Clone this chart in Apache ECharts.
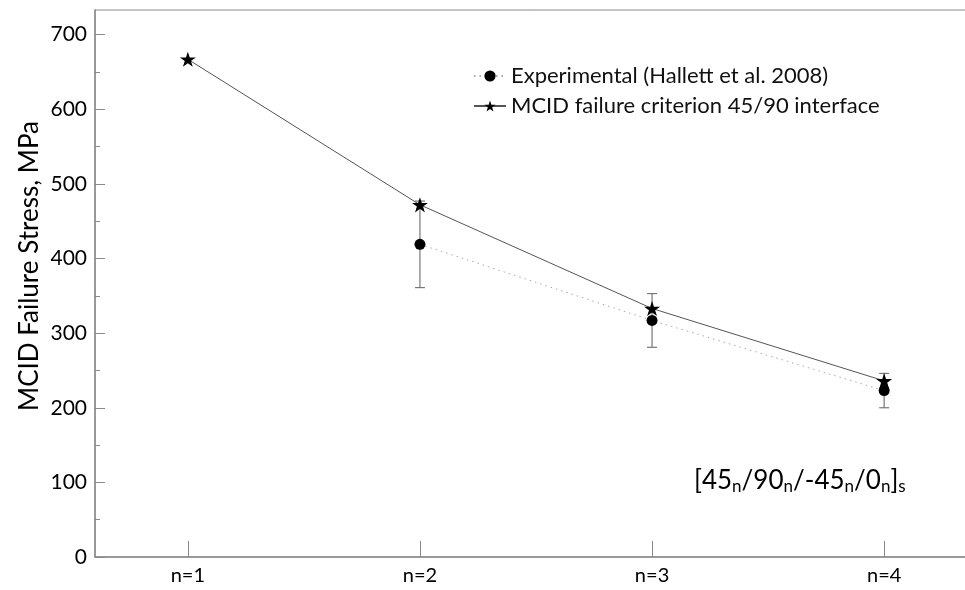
<!DOCTYPE html>
<html>
<head>
<meta charset="utf-8">
<script src="https://cdn.jsdelivr.net/npm/echarts@6/dist/echarts.min.js"></script>
<style>
  html, body { margin: 0; padding: 0; background: #fff; }
  #chart { width: 965px; height: 590px; }
</style>
</head>
<body>
<div id="chart"></div>
<script>
// Laminate stacking [45n/90n/-45n/0n]s, n = 1..4
const categories = ['n=1', 'n=2', 'n=3', 'n=4'];
const mcidStress = [667, 472, 333, 236];          // MCID failure criterion, MPa
const expStress = [null, 419, 317, 223];          // experimental mean, MPa
const expLow = [null, 361, 281, 200];             // error bar lower end
const expHigh = [null, 477, 353, 246];            // error bar upper end
const yTicks = [0, 100, 200, 300, 400, 500, 600, 700];

const FONT = 'Lato, "Open Sans", sans-serif';
const AXIS_GREY = '#8a8a8a';
const STAR = 'path://M50,0 L61.2,34.5 L97.6,34.5 L68.2,55.9 L79.4,90.5 L50,69.1 L20.6,90.5 L31.8,55.9 L2.4,34.5 L38.8,34.5 Z';

const pos = categories.map((c, i) => i + 1);
const mcidData = pos.map((x, i) => [x, mcidStress[i]]);
const expData = pos.map((x, i) => [x, expStress[i]]).filter(d => d[1] != null);
const errData = pos.map((x, i) => [x, expLow[i], expHigh[i]]).filter(d => d[1] != null);

const chart = echarts.init(document.getElementById('chart'), null, { renderer: 'canvas' });

chart.setOption({
  animation: false,
  backgroundColor: '#fff',
  textStyle: { fontFamily: FONT },
  grid: {
    left: 95, top: 10, right: -12, bottom: 33,
    show: true, borderColor: AXIS_GREY, borderWidth: 1,
    outerBoundsMode: 'none'
  },
  legend: {
    orient: 'vertical',
    left: 468, top: 60,
    itemWidth: 32, itemHeight: 14, itemGap: 8,
    textStyle: { fontFamily: FONT, fontSize: 22, color: '#111' },
    data: ['Experimental (Hallett et al. 2008)', 'MCID failure criterion 45/90 interface']
  },
  xAxis: {
    type: 'value', min: 0.6, max: 4.4,
    axisLine: { show: true, lineStyle: { color: AXIS_GREY, width: 1.5 } },
    axisTick: { show: true, inside: true, length: 16, customValues: pos, lineStyle: { color: AXIS_GREY } },
    axisLabel: {
      customValues: pos, margin: 9,
      fontFamily: FONT, fontSize: 20, color: '#000',
      formatter: v => categories[Math.round(v) - 1]
    },
    splitLine: { show: false }
  },
  yAxis: [
    {
      type: 'value', min: 0, max: 733,
      axisLine: { show: true, lineStyle: { color: AXIS_GREY, width: 1.5 } },
      axisTick: { show: true, inside: true, length: 10, customValues: yTicks, lineStyle: { color: AXIS_GREY } },
      axisLabel: { customValues: yTicks, margin: 8, fontFamily: FONT, fontSize: 21, color: '#000' },
      splitLine: { show: false }
    },
    {
      type: 'value', min: 0, max: 733, position: 'left',
      axisLine: { show: false },
      axisTick: { show: true, inside: true, length: 5, customValues: [50, 150, 250, 350, 450, 550, 650], lineStyle: { color: AXIS_GREY } },
      axisLabel: { show: false },
      splitLine: { show: false }
    }
  ],
  graphic: [
    {
      type: 'text', x: 30, y: 266, rotation: Math.PI / 2,
      style: {
        text: 'MCID Failure Stress, MPa', fontFamily: FONT, fontSize: 26, fill: '#000',
        align: 'center', verticalAlign: 'middle'
      }
    },
    {
      type: 'text', x: 694, y: 481,
      style: {
        text: '{a|[45}{b|n}{a|/90}{b|n}{a|/-45}{b|n}{a|/0}{b|n}{a|]}{b|s}',
        verticalAlign: 'middle',
        rich: {
          a: { fontFamily: FONT, fontSize: 26, fill: '#000', lineHeight: 30 },
          b: { fontFamily: FONT, fontSize: 17, fill: '#000', lineHeight: 30, padding: [12, 0, 0, 0] }
        }
      }
    }
  ],
  series: [
    {
      type: 'custom',
      name: 'errorbars',
      z: 1,
      data: errData,
      renderItem: function (params, api) {
        const x = api.value(0);
        const lo = api.coord([x, api.value(1)]);
        const hi = api.coord([x, api.value(2)]);
        const w = 5;
        const st = { stroke: '#777', lineWidth: 1.2 };
        return {
          type: 'group',
          children: [
            { type: 'line', shape: { x1: lo[0], y1: lo[1], x2: hi[0], y2: hi[1] }, style: st },
            { type: 'line', shape: { x1: lo[0] - w, y1: lo[1], x2: lo[0] + w, y2: lo[1] }, style: st },
            { type: 'line', shape: { x1: hi[0] - w, y1: hi[1], x2: hi[0] + w, y2: hi[1] }, style: st }
          ]
        };
      }
    },
    {
      type: 'line',
      name: 'Experimental (Hallett et al. 2008)',
      z: 2,
      data: expData,
      symbol: 'circle', symbolSize: 11,
      itemStyle: { color: '#000' },
      lineStyle: { color: '#aaa', width: 1, type: [1.5, 4] }
    },
    {
      type: 'line',
      name: 'MCID failure criterion 45/90 interface',
      z: 3,
      data: mcidData,
      symbol: STAR, symbolSize: 16, symbolKeepAspect: true,
      itemStyle: { color: '#000' },
      lineStyle: { color: '#555', width: 1 }
    }
  ]
});
</script>
</body>
</html>
